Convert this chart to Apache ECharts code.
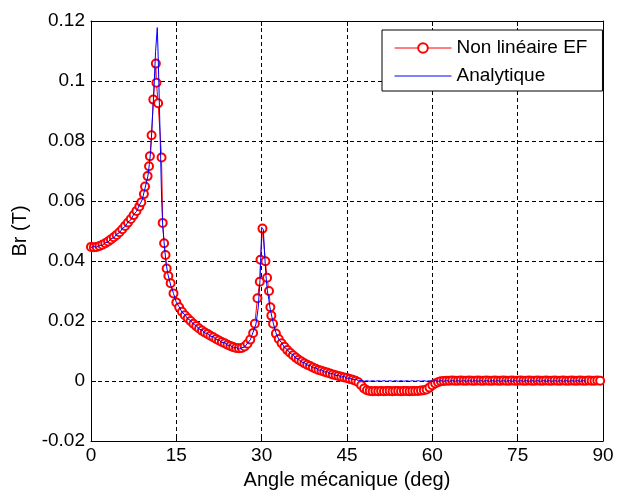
<!DOCTYPE html>
<html><head><meta charset="utf-8">
<script src="https://cdn.jsdelivr.net/npm/echarts@6/dist/echarts.min.js"></script>
<style>html,body{margin:0;padding:0;background:#fff}#c{width:618px;height:495px}</style>
</head><body><div id="c"></div>
<script>
const xTicks = [0, 15, 30, 45, 60, 75, 90];
const yTicks = [-0.02, 0, 0.02, 0.04, 0.06, 0.08, 0.1, 0.12];
const seriesNames = ['Non linéaire EF', 'Analytique'];

const redX = [0,0.5,1,1.5,2,2.5,3,3.5,4,4.5,5,5.5,6,6.5,7,7.5,8,8.5,8.85,9.3,9.5,9.95,10.2,10.35,10.65,10.95,11.4,11.5,11.8,12.4,12.6,12.85,13.1,13.3,13.6,14,14.5,15,15.5,16,16.5,17,17.5,18,18.5,19,19.5,20,20.5,21,21.5,22,22.5,23,23.5,24,24.5,25,25.5,26,26.5,27,27.5,28,28.5,28.8,29.26,29.67,29.79,30.14,30.66,30.95,31.29,31.53,31.7,32,32.5,33,33.5,34,34.5,35,35.5,36,36.5,37,37.5,38,38.5,39,39.5,40,40.5,41,41.5,42,42.5,43,43.5,44,44.5,45,45.5,46,46.5,47,47.5,48,48.5,49,49.5,50,50.5,51,51.5,52,52.5,53,53.5,54,54.5,55,55.5,56,56.5,57,57.5,58,58.5,59,59.5,60,60.5,61,61.5,62,62.5,63,63.5,64,64.5,65,65.5,66,66.5,67,67.5,68,68.5,69,69.5,70,70.5,71,71.5,72,72.5,73,73.5,74,74.5,75,75.5,76,76.5,77,77.5,78,78.5,79,79.5,80,80.5,81,81.5,82,82.5,83,83.5,84,84.5,85,85.5,86,86.5,87,87.5,88,88.5,89,89.5,90];
const redY = [0.0447,0.0446,0.0447,0.0450,0.0454,0.0459,0.0465,0.0472,0.0479,0.0487,0.0496,0.0506,0.0517,0.0528,0.0540,0.0553,0.0567,0.0582,0.0596,0.0623,0.0648,0.0683,0.0716,0.0749,0.0819,0.0938,0.1058,0.0994,0.0926,0.0745,0.0527,0.0459,0.0420,0.0375,0.0350,0.0326,0.0292,0.0262,0.0246,0.0231,0.0219,0.0209,0.0200,0.0191,0.0183,0.0175,0.0168,0.0162,0.0157,0.0151,0.0146,0.0140,0.0135,0.0130,0.0126,0.0121,0.0117,0.0113,0.0110,0.0109,0.0110,0.0115,0.0124,0.0138,0.0160,0.0191,0.0276,0.0331,0.0404,0.0508,0.0399,0.0344,0.0300,0.0246,0.0218,0.0191,0.0158,0.0140,0.0126,0.0114,0.0103,0.0094,0.0086,0.0078,0.0071,0.0065,0.0059,0.0054,0.0050,0.0045,0.0041,0.0037,0.0034,0.0031,0.0028,0.0025,0.0022,0.0019,0.0017,0.0014,0.0012,0.0010,0.0007,0.0004,0.0001,-0.0004,-0.0014,-0.0025,-0.0031,-0.0033,-0.0034,-0.0033,-0.0034,-0.0033,-0.0034,-0.0033,-0.0033,-0.0034,-0.0033,-0.0033,-0.0034,-0.0033,-0.0033,-0.0034,-0.0033,-0.0033,-0.0033,-0.0032,-0.0031,-0.0028,-0.0022,-0.0014,-0.0008,-0.0004,-0.0001,0.0000,0.0001,0.0001,0.0002,0.0001,0.0001,0.0002,0.0001,0.0001,0.0002,0.0001,0.0001,0.0002,0.0001,0.0001,0.0002,0.0001,0.0001,0.0002,0.0001,0.0001,0.0002,0.0001,0.0001,0.0002,0.0001,0.0001,0.0002,0.0001,0.0001,0.0002,0.0001,0.0001,0.0002,0.0001,0.0001,0.0002,0.0001,0.0001,0.0002,0.0001,0.0001,0.0002,0.0001,0.0001,0.0002,0.0001,0.0001,0.0002,0.0001,0.0001,0.0002,0.0001,0.0001,0.0002,0.0001];

const blueX = [0,0.5,1,1.5,2,2.5,3,3.5,4,4.5,5,5.5,6,6.5,7,7.5,8,8.5,9,9.5,10,10.25,10.5,10.75,11.05,11.35,11.65,11.8,12.05,12.4,12.6,12.9,13.2,13.5,14,14.5,15,15.5,16,16.5,17,17.5,18,18.5,19,19.5,20,20.5,21,21.5,22,22.5,23,23.5,24,24.5,25,25.5,26,26.5,27,27.5,28,28.5,29,29.4,29.7,29.9,30,30.3,30.5,30.75,31,31.25,31.5,32,32.5,33,33.5,34,34.5,35,35.5,36,36.5,37,37.5,38,38.5,39,39.5,40,40.5,41,41.5,42,42.5,43,43.5,44,44.5,45,45.5,46,46.5,47,47.5,48,48.5,49,49.5,50,50.5,51,51.5,52,52.5,53,53.5,54,54.5,55,55.5,56,56.5,57,57.5,58,58.5,59,59.5,60,60.5,61,61.5,62,62.5,63,63.5,64,64.5,65,65.5,66,66.5,67,67.5,68,68.5,69,69.5,70,70.5,71,71.5,72,72.5,73,73.5,74,74.5,75,75.5,76,76.5,77,77.5,78,78.5,79,79.5,80,80.5,81,81.5,82,82.5,83,83.5,84,84.5,85,85.5,86,86.5,87,87.5,88,88.5,89,89.5,90];
const blueY = [0.0445,0.0448,0.0446,0.0452,0.0452,0.0461,0.0463,0.0474,0.0477,0.0489,0.0494,0.0508,0.0515,0.0530,0.0537,0.0555,0.0565,0.0586,0.0604,0.0643,0.0683,0.0722,0.0768,0.0858,0.0967,0.1098,0.1178,0.1087,0.0900,0.0617,0.0520,0.0450,0.0392,0.0357,0.0320,0.0292,0.0262,0.0247,0.0229,0.0221,0.0207,0.0202,0.0189,0.0185,0.0173,0.0170,0.0160,0.0159,0.0149,0.0148,0.0138,0.0137,0.0128,0.0128,0.0119,0.0119,0.0111,0.0112,0.0106,0.0111,0.0113,0.0126,0.0137,0.0163,0.0190,0.0245,0.0335,0.0440,0.0512,0.0505,0.0430,0.0352,0.0302,0.0272,0.0240,0.0196,0.0161,0.0139,0.0128,0.0112,0.0105,0.0092,0.0088,0.0076,0.0073,0.0063,0.0061,0.0053,0.0052,0.0044,0.0044,0.0036,0.0037,0.0030,0.0031,0.0024,0.0025,0.0018,0.0019,0.0013,0.0015,0.0009,0.0010,0.0005,0.0006,0.0001,0.0002,-0.0001,0.0001,-0.0001,0.0001,-0.0001,0.0001,-0.0001,0.0001,-0.0001,0.0001,-0.0001,0.0001,-0.0001,0.0001,-0.0001,0.0001,-0.0001,0.0001,-0.0001,0.0001,-0.0001,0.0001,-0.0001,0.0001,-0.0001,0.0001,-0.0001,0.0001,-0.0001,0.0001,-0.0001,0.0001,-0.0001,0.0001,-0.0001,0.0001,-0.0001,0.0001,-0.0001,0.0001,-0.0001,0.0001,-0.0001,0.0001,-0.0001,0.0001,-0.0001,0.0001,-0.0001,0.0001,-0.0001,0.0001,-0.0001,0.0001,-0.0001,0.0001,-0.0001,0.0001,-0.0001,0.0001,-0.0001,0.0001,-0.0001,0.0001,-0.0001,0.0001,-0.0001,0.0001,-0.0001,0.0001,-0.0001,0.0001,-0.0001,0.0001,-0.0001,0.0001,-0.0001,0.0001,-0.0001];

const FONT = '"Liberation Sans", Arial, sans-serif';
const chart = echarts.init(document.getElementById('c'), null, {renderer: 'canvas'});
const xMin = xTicks[0], xMax = xTicks[xTicks.length - 1], xInt = xTicks[1] - xTicks[0];
const yMin = yTicks[0], yMax = yTicks[yTicks.length - 1], yInt = 0.02;
const zip = (a, b) => a.map((v, i) => [v, b[i]]);
const black = '#000';
const commonAxis = {
  axisLine: {show: true, onZero: false, lineStyle: {color: black, width: 1}},
  axisTick: {show: true, inside: true, length: 5, lineStyle: {color: black}},
};
chart.setOption({
  animation: false,
  backgroundColor: '#fff',
  grid: {left: 91, right: 15, top: 21, bottom: 51},
  legend: {
    orient: 'vertical', left: 382, top: 30,
    padding: [8, 15, 5, 12],
    itemWidth: 57, itemHeight: 12, itemGap: 8,
    borderColor: black, borderWidth: 1, backgroundColor: '#fff',
    lineStyle: {width: 1},
    textStyle: {fontFamily: FONT, fontSize: 19, color: black, lineHeight: 20},
    data: [
      {name: seriesNames[0]},
      {name: seriesNames[1], itemStyle: {opacity: 0}}
    ]
  },
  xAxis: [{
    type: 'value', min: xMin, max: xMax, interval: xInt, position: 'bottom',
    name: 'Angle mécanique (deg)', nameLocation: 'middle', nameGap: 29,
    nameTextStyle: {fontFamily: FONT, fontSize: 20, color: black},
    ...commonAxis,
    axisLabel: {fontFamily: FONT, fontSize: 19, color: black, margin: 5},
    splitLine: {show: true, lineStyle: {color: black, type: [4, 3], width: 1}}
  }, {
    type: 'value', min: xMin, max: xMax, interval: xInt, position: 'top',
    ...commonAxis, axisLabel: {show: false}, splitLine: {show: false}
  }],
  yAxis: [{
    type: 'value', min: yMin, max: yMax, interval: yInt, position: 'left',
    name: 'Br (T)', nameLocation: 'middle', nameGap: 57,
    nameTextStyle: {fontFamily: FONT, fontSize: 20, color: black},
    ...commonAxis,
    axisLabel: {fontFamily: FONT, fontSize: 19, color: black, margin: 6,
      formatter: v => String(+v.toFixed(2))},
    splitLine: {show: true, lineStyle: {color: black, type: [4, 3], width: 1}}
  }, {
    type: 'value', min: yMin, max: yMax, interval: yInt, position: 'right',
    ...commonAxis, axisLabel: {show: false}, splitLine: {show: false}
  }],
  series: [{
    name: seriesNames[0], type: 'line', data: zip(redX, redY),
    symbol: 'emptyCircle', symbolSize: 8, showAllSymbol: true,
    lineStyle: {color: '#ff0000', width: 1},
    itemStyle: {color: '#ff0000', borderColor: '#ff0000', borderWidth: 1},
    z: 2
  }, {
    name: seriesNames[1], type: 'line', data: zip(blueX, blueY),
    symbol: 'none', lineStyle: {color: '#0000ff', width: 1},
    itemStyle: {color: '#0000ff'},
    z: 3
  }]
});
</script></body></html>
